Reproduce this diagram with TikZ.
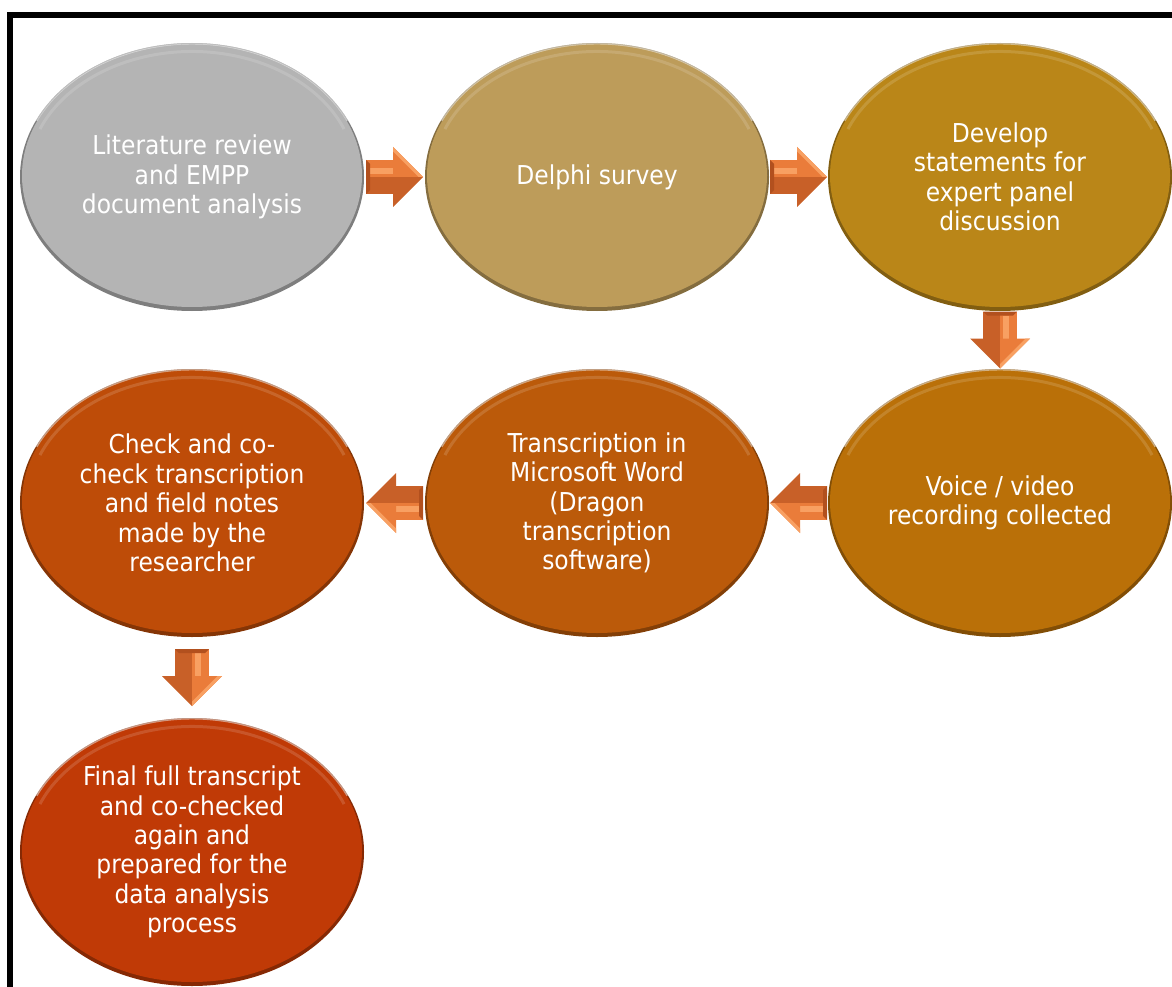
\documentclass[tikz,border=0pt]{standalone}
\usepackage{fontspec}
\setmainfont{DejaVu Sans Condensed}
\usetikzlibrary{shapes.geometric,calc}

% stage colours, from grey through tan and gold to deep orange
\definecolor{stA}{RGB}{180,180,180}
\definecolor{stB}{RGB}{189,156,90}
\definecolor{stC}{RGB}{186,134,24}
\definecolor{stD}{RGB}{186,112,8}
\definecolor{stE}{RGB}{187,90,10}
\definecolor{stF}{RGB}{190,76,8}
\definecolor{stG}{RGB}{192,58,6}
% block arrow facets
\definecolor{arLight}{RGB}{248,160,98}
\definecolor{arMid}{RGB}{234,124,58}
\definecolor{arDark}{RGB}{200,96,40}
\definecolor{arDeep}{RGB}{178,80,30}

\tikzset{
  stage/.style={
    ellipse, minimum width=344pt, minimum height=268pt, inner sep=0pt,
    align=center, text=white,
    font=\fontsize{26}{29.4}\selectfont,
    fill=#1!70!black,
    path picture={
      % raised face leaving a thin darker rim below
      \fill[#1] ([yshift=1.5pt]path picture bounding box.center)
        ellipse[x radius=170pt, y radius=131.5pt];
      % soft gloss just inside the upper edge
      \draw[white, opacity=.14, line width=3pt]
        ($([yshift=1.5pt]path picture bounding box.center)+({164*cos(22)},{124*sin(22)})$)
        arc[start angle=22, end angle=158, x radius=164pt, y radius=124pt];
      \draw[white, opacity=.5, line width=2pt]
        ($(path picture bounding box.center)+({171.5*cos(25)},{133.5*sin(25)})$)
        arc[start angle=25, end angle=155, x radius=171.5pt, y radius=133.5pt];
    }},
  pics/blockarrow/.style={code={
    % shaft, shaded half and lit half
    \fill[arDark] (-28.5,-17) rectangle (-1.5,0);
    \fill[arMid] (-28.5,0) rectangle (-1.5,17);
    \fill[arLight] (-24.5,3) rectangle (-1.5,9);
    \fill[arDeep] (-28.5,-17) -- (-24.5,-13) -- (-24.5,13) -- (-28.5,17) -- cycle;
    % head, two facets meeting at the ridge
    \fill[arDark] (-1.5,-30) -- (28.5,0) -- (-1.5,0) -- cycle;
    \fill[arMid] (-1.5,30) -- (28.5,0) -- (-1.5,0) -- cycle;
    \fill[arLight] (-1.5,30) -- (28.5,0) -- (24,0) -- (-1.5,25.5) -- cycle;
  }},
}

\begin{document}
\begin{tikzpicture}[x=1pt, y=1pt]
  \useasboundingbox (0,0) rectangle (1172,-987);
  \clip (0,0) rectangle (1172,-987);

  % frame
  \draw[line width=6pt, line join=miter] (10,-995) -- (10,-15) -- (1180,-15);

  % stages
  \node[stage=stA] (A) at (192,-177) {Literature review\\and EMPP\\document analysis};
  \node[stage=stB] (B) at (597,-177) {Delphi survey};
  \node[stage=stC] (C) at (1000,-177) {Develop\\statements for\\expert panel\\discussion};
  \node[stage=stD] (D) at (1000,-503) {Voice / video\\recording collected};
  \node[stage=stE] (E) at (597,-503) {Transcription in\\Microsoft Word\\(Dragon\\transcription\\software)};
  \node[stage=stF] (F) at (192,-503) {Check and co-\\check transcription\\and field notes\\made by the\\researcher};
  \node[stage=stG] (G) at (192,-852) {Final full transcript\\and co-checked\\again and\\prepared for the\\data analysis\\process};

  % flow arrows between stages
  \pic at ($(A.east)!.5!(B.west)$) {blockarrow};
  \pic at ($(B.east)!.5!(C.west)$) {blockarrow};
  \pic[rotate=-90] at ($(C.south)!.5!(D.north)$) {blockarrow};
  \pic[rotate=180] at ($(D.west)!.5!(E.east)$) {blockarrow};
  \pic[rotate=180] at ($(E.west)!.5!(F.east)$) {blockarrow};
  \pic[rotate=-90] at ($(F.south)!.5!(G.north)$) {blockarrow};
\end{tikzpicture}
\end{document}
